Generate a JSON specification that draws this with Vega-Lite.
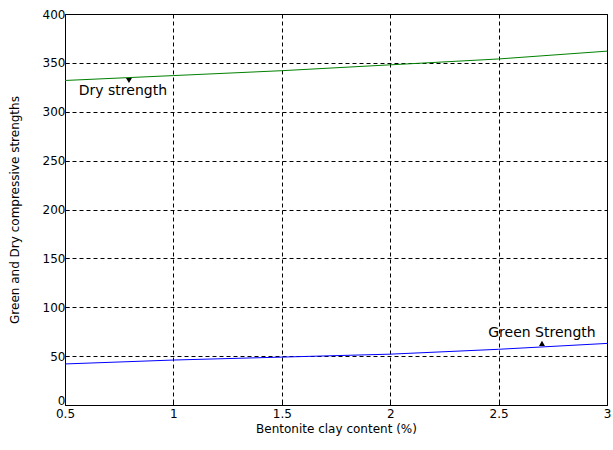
{
  "$schema": "https://vega.github.io/schema/vega-lite/v6.json",
  "width": 542,
  "height": 391,
  "padding": {"left": 8, "top": 8, "right": 4, "bottom": 5},
  "background": "white",
  "config": {
    "font": "DejaVu Sans",
    "view": {"stroke": "black", "strokeWidth": 1},
    "axis": {
      "grid": true, "gridColor": "black", "gridDash": [4, 3], "gridOpacity": 1, "gridWidth": 1,
      "domain": false, "tickColor": "black", "tickSize": -4,
      "labelColor": "black", "labelFontSize": 12, "labelFont": "DejaVu Sans",
      "labelFlush": false, "labelOverlap": false, "labelBound": false,
      "titleColor": "black", "titleFontSize": 12, "titleFontWeight": "normal", "titleFont": "DejaVu Sans"
    }
  },
  "datasets": {
    "lines": [
      {"x": 0.5, "y": 332, "s": "Dry"}, {"x": 1, "y": 337, "s": "Dry"}, {"x": 1.5, "y": 342, "s": "Dry"},
      {"x": 2, "y": 348, "s": "Dry"}, {"x": 2.5, "y": 354, "s": "Dry"}, {"x": 3, "y": 362, "s": "Dry"},
      {"x": 0.5, "y": 42, "s": "Green"}, {"x": 1, "y": 46, "s": "Green"}, {"x": 1.5, "y": 49, "s": "Green"},
      {"x": 2, "y": 52, "s": "Green"}, {"x": 2.5, "y": 57, "s": "Green"}, {"x": 3, "y": 63, "s": "Green"}
    ],
    "marks": [
      {"x": 0.795, "y": 332, "shape": "triangle-down"},
      {"x": 2.70, "y": 63, "shape": "triangle-up"}
    ],
    "labels": [
      {"x": 0.767, "y": 321, "t": "Dry strength"},
      {"x": 2.70, "y": 74, "t": "Green Strength"}
    ]
  },
  "layer": [
    {
      "data": {"name": "lines"},
      "mark": {"type": "line", "strokeWidth": 1},
      "encoding": {
        "x": {"field": "x", "type": "quantitative", "scale": {"domain": [0.5, 3], "nice": false},
              "axis": {"values": [0.5, 1, 1.5, 2, 2.5, 3], "format": "~g", "title": "Bentonite clay content (%)", "labelPadding": 7, "titlePadding": 4}},
        "y": {"field": "y", "type": "quantitative", "scale": {"domain": [0, 400], "nice": false},
              "axis": {"values": [0, 50, 100, 150, 200, 250, 300, 350, 400], "title": "Green and Dry compressive strengths", "labelPadding": 4, "titlePadding": 21,
                       "labelOffset": {"condition": {"test": "datum.value == 0", "value": -5}, "value": 0}}},
        "color": {"field": "s", "type": "nominal", "scale": {"domain": ["Dry", "Green"], "range": ["#008000", "#0000ff"]}, "legend": null}
      }
    },
    {
      "data": {"name": "marks"},
      "mark": {"type": "point", "filled": true, "color": "black", "size": 35, "opacity": 1},
      "encoding": {
        "x": {"field": "x", "type": "quantitative"},
        "y": {"field": "y", "type": "quantitative"},
        "shape": {"field": "shape", "type": "nominal", "scale": null}
      }
    },
    {
      "data": {"name": "labels"},
      "mark": {"type": "text", "fontSize": 14, "color": "black", "font": "DejaVu Sans"},
      "encoding": {
        "x": {"field": "x", "type": "quantitative"},
        "y": {"field": "y", "type": "quantitative"},
        "text": {"field": "t"}
      }
    }
  ]
}
